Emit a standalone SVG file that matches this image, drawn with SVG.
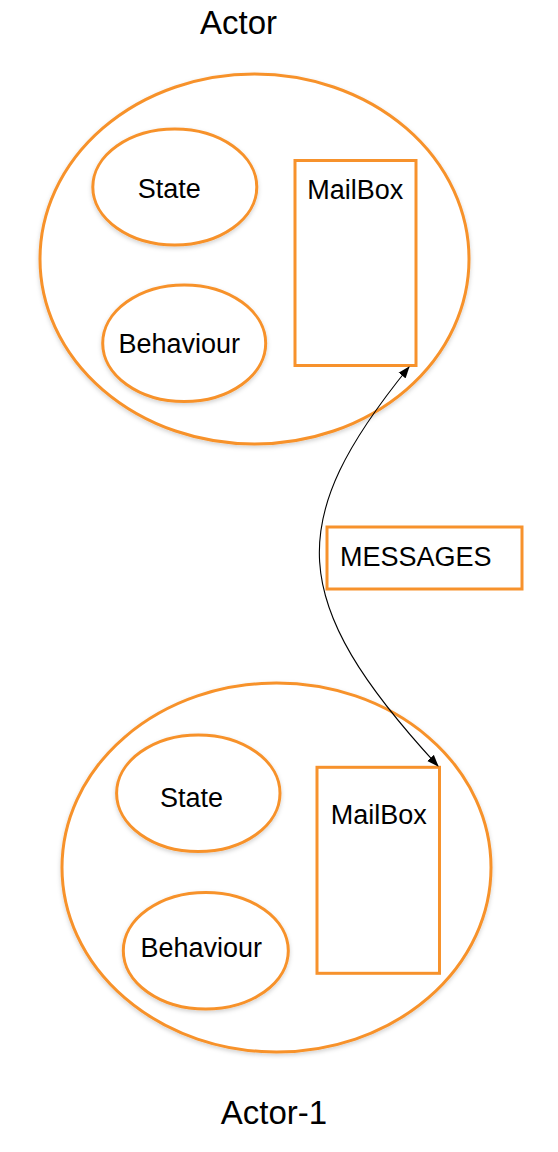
<svg xmlns="http://www.w3.org/2000/svg" width="558" height="1152" viewBox="0 0 558 1152">
<style>
  .shape { fill: #ffffff; stroke: #F7922C; stroke-width: 3; }
  .sh { filter: url(#shadow); }
  .lbl { font-family: "Liberation Sans", Arial, Helvetica, sans-serif; font-size: 27px; fill: #000000; }
  .title { font-family: "Liberation Sans", Arial, Helvetica, sans-serif; font-size: 33px; fill: #000000; text-anchor: middle; }
  .mid { text-anchor: middle; }
  .conn { fill: none; stroke: #000000; stroke-width: 1.1; }
</style>
<defs>
  <filter id="shadow" x="-10%" y="-10%" width="120%" height="120%">
    <feDropShadow dx="0" dy="2" stdDeviation="2" flood-color="#000000" flood-opacity="0.18"/>
  </filter>
  <marker id="arrow" viewBox="0 0 12 10" refX="11" refY="5" markerWidth="12" markerHeight="10" markerUnits="userSpaceOnUse" orient="auto-start-reverse">
    <path d="M0,0.5 L12,5 L0,9.5 z" fill="#000000"/>
  </marker>
</defs>
<rect width="558" height="1152" fill="#ffffff"/>

<g id="actor">
  <ellipse class="shape sh" cx="254.5" cy="259" rx="214.5" ry="185"/>
  <text class="title" x="238.5" y="33.5">Actor</text>
</g>
<g id="state">
  <ellipse class="shape sh" cx="174.8" cy="187" rx="82" ry="58"/>
  <text class="lbl mid" x="169.2" y="198.3">State</text>
</g>
<g id="behaviour">
  <ellipse class="shape sh" cx="184.2" cy="343.3" rx="81.5" ry="58.3"/>
  <text class="lbl mid" x="179.2" y="352.7">Behaviour</text>
</g>
<g id="mailbox">
  <rect class="shape" x="295" y="160.5" width="121" height="205"/>
  <text class="lbl mid" x="355.3" y="199.3">MailBox</text>
</g>

<g id="actor-1">
  <ellipse class="shape sh" cx="276.5" cy="867.5" rx="214.5" ry="184.5"/>
  <text class="title" x="274" y="1124.3">Actor-1</text>
</g>
<g id="state-1">
  <ellipse class="shape sh" cx="198.3" cy="793.3" rx="81.7" ry="58.3"/>
  <text class="lbl mid" x="191.5" y="806.7">State</text>
</g>
<g id="behaviour-1">
  <ellipse class="shape sh" cx="205.8" cy="950.7" rx="82.5" ry="58.3"/>
  <text class="lbl mid" x="201.3" y="957.3">Behaviour</text>
</g>
<g id="mailbox-1">
  <rect class="shape" x="317" y="767.3" width="122.5" height="206"/>
  <text class="lbl mid" x="378.7" y="824.3">MailBox</text>
</g>

<g id="connectors">
  <path class="conn" d="M409,367 C285,520 285,600 438,766" marker-start="url(#arrow)" marker-end="url(#arrow)"/>
</g>

<g id="messages">
  <rect class="shape" x="327" y="527" width="195" height="62"/>
  <text class="lbl" x="340" y="565.7">MESSAGES</text>
</g>
</svg>
